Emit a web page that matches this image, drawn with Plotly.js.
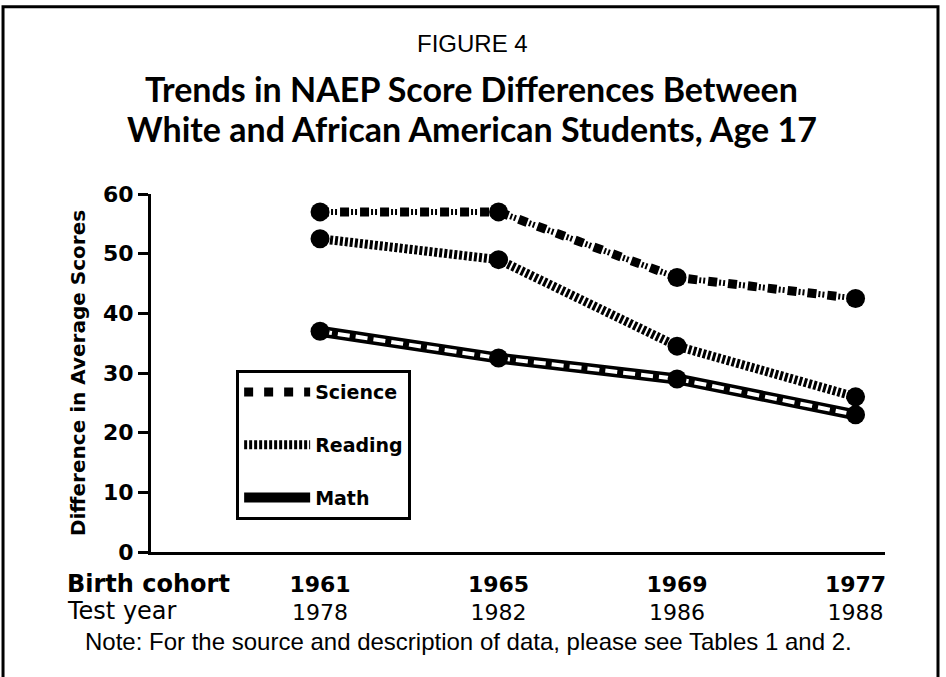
<!DOCTYPE html>
<html>
<head>
<meta charset="utf-8">
<script src="https://cdn.plot.ly/plotly-3.0.1.min.js"></script>
<style>
  html, body { margin: 0; padding: 0; background: #fff; }
  #chart { width: 946px; height: 677px; }
</style>
</head>
<body>
<div id="chart"></div>
<script>
// ---- data ----
const birthCohort = ["1961", "1965", "1969", "1977"];
const testYear = ["1978", "1982", "1986", "1988"];
const science = [57, 57, 46, 42.5];
const reading = [52.5, 49, 34.5, 26];
const math = [37, 32.5, 29, 23];
const yTicks = [0, 10, 20, 30, 40, 50, 60];

const xIdx = birthCohort.map((_, i) => i);

const geo = "Lato, 'DejaVu Sans', sans-serif";
const wide = "'DejaVu Sans', sans-serif";
const helv = "'Liberation Sans', Arial, sans-serif";

const traces = [
  // Science: round dots with double bars between them
  {x: xIdx, y: science, mode: "lines", name: "Science", legendgroup: "s",
   line: {color: "#000", width: 9, dash: "9px,11px"}, showlegend: true},
  {x: xIdx, y: science, mode: "lines", legendgroup: "s", showlegend: false,
   line: {color: "#000", width: 6, dash: "0px,11px,2px,2px,2px,3px"}},
  {x: xIdx, y: science, mode: "markers", legendgroup: "s", showlegend: false,
   marker: {color: "#000", size: 19}},
  // Reading: hatched rope
  {x: xIdx, y: reading, mode: "lines", name: "Reading", legendgroup: "r",
   line: {color: "#000", width: 9, dash: "3px,2px"}, showlegend: true},
  {x: xIdx, y: reading, mode: "markers", legendgroup: "r", showlegend: false,
   marker: {color: "#000", size: 19}},
  // Math: chain of hollow links
  {x: xIdx, y: math, mode: "lines", name: "Math", legendgroup: "m",
   line: {color: "#000", width: 11}, showlegend: true},
  {x: xIdx, y: math, mode: "lines", legendgroup: "m", showlegend: false,
   line: {color: "#fff", width: 4, dash: "12px,6px"}},
  {x: xIdx, y: math, mode: "markers", legendgroup: "m", showlegend: false,
   marker: {color: "#000", size: 19}},
  // invisible carrier for the second row of x labels
  {x: xIdx, y: math, xaxis: "x2", mode: "markers", showlegend: false,
   marker: {opacity: 0}, hoverinfo: "skip"}
];

const layout = {
  width: 946, height: 677,
  margin: {l: 151, r: 61, t: 194, b: 125},
  paper_bgcolor: "#fff", plot_bgcolor: "#fff",
  showlegend: true,
  legend: {
    x: 0.116, y: 0.508, xanchor: "left", yanchor: "top",
    bordercolor: "#000", borderwidth: 3, bgcolor: "#fff",
    font: {family: wide, size: 19, color: "#000", weight: "bold"},
    traceorder: "grouped", tracegroupgap: 25,
    itemwidth: 66
  },
  xaxis: {
    range: [-0.947, 3.165],
    tickmode: "array", tickvals: xIdx, ticktext: birthCohort,
    tickfont: {family: wide, size: 22, color: "#000", weight: "bold"},
    showline: true, linecolor: "#000", linewidth: 3,
    showgrid: false, zeroline: false, ticks: "",
    ticklabelstandoff: 11, fixedrange: true
  },
  xaxis2: {
    range: [-0.947, 3.165], overlaying: "x", side: "bottom", anchor: "y",
    tickmode: "array", tickvals: xIdx, ticktext: testYear,
    tickfont: {family: wide, size: 22, color: "#000"},
    showline: false, showgrid: false, zeroline: false, ticks: "",
    ticklabelstandoff: 45, fixedrange: true
  },
  yaxis: {
    range: [0, 60],
    tickmode: "array", tickvals: yTicks,
    tickfont: {family: wide, size: 22, color: "#000", weight: "bold"},
    showline: true, linecolor: "#000", linewidth: 3,
    ticks: "outside", ticklen: 10, tickwidth: 3, tickcolor: "#000",
    showgrid: false, zeroline: false,
    title: {text: "Difference in Average Scores", standoff: 12,
            font: {family: wide, size: 20, color: "#000", weight: "bold"}},
    fixedrange: true
  },
  annotations: [
    {xref: "paper", yref: "paper", x: 0.438, y: 1.42, xanchor: "center", yanchor: "middle",
     text: "FIGURE 4", showarrow: false,
     font: {family: helv, size: 24, color: "#000"}},
    {xref: "paper", yref: "paper", x: 0.437, y: 1.296, xanchor: "center", yanchor: "middle",
     text: "Trends in NAEP Score Differences Between", showarrow: false,
     font: {family: geo, size: 34, color: "#000", weight: "bold"}},
    {xref: "paper", yref: "paper", x: 0.437, y: 1.184, xanchor: "center", yanchor: "middle",
     text: "White and African American Students, Age 17", showarrow: false,
     font: {family: geo, size: 34, color: "#000", weight: "bold"}},
    {xref: "paper", yref: "paper", x: -0.117, y: -0.089, xanchor: "left", yanchor: "middle",
     text: "<b>Birth cohort</b>", align: "left", showarrow: false,
     font: {family: wide, size: 24, color: "#000"}},
    {xref: "paper", yref: "paper", x: -0.117, y: -0.165, xanchor: "left", yanchor: "middle",
     text: "Test year", align: "left", showarrow: false,
     font: {family: wide, size: 24, color: "#000"}},
    {xref: "paper", yref: "paper", x: 0.432, y: -0.249, xanchor: "center", yanchor: "middle",
     text: "Note: For the source and description of data, please see Tables 1 and 2.",
     showarrow: false,
     font: {family: helv, size: 24, color: "#000"}}
  ],
  shapes: [
    {type: "rect", xref: "paper", yref: "paper",
     x0: -0.2016, x1: 1.0722, y0: -0.45, y1: 1.523,
     line: {color: "#000", width: 3}, fillcolor: "rgba(0,0,0,0)", layer: "below"}
  ]
};

Plotly.newPlot("chart", traces, layout, {displayModeBar: false, staticPlot: true});
</script>
</body>
</html>
